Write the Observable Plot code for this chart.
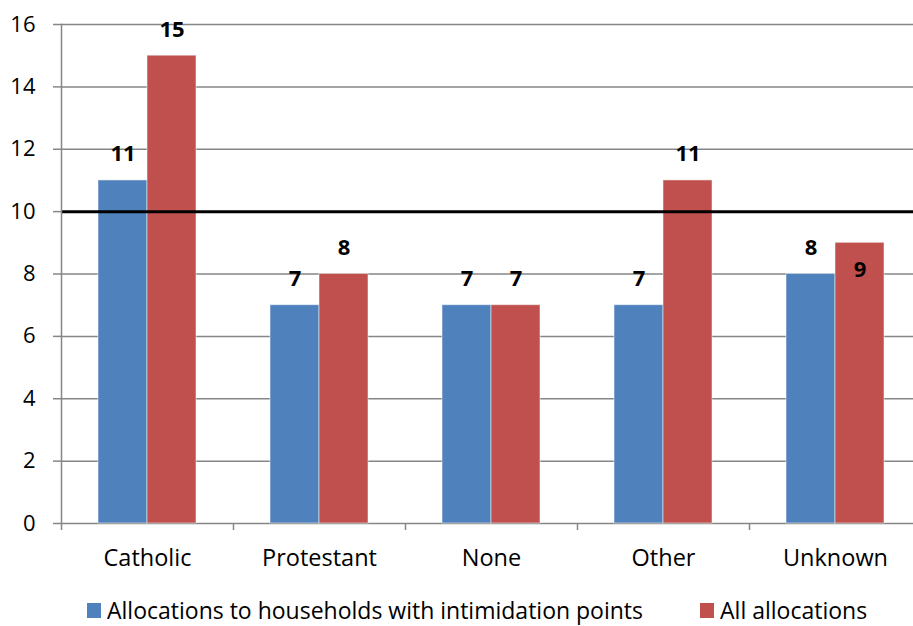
<!DOCTYPE html>
<html>
<head>
<meta charset="utf-8">
<script src="https://cdn.jsdelivr.net/npm/d3@7"></script>
<script src="https://cdn.jsdelivr.net/npm/@observablehq/plot@0.6"></script>
<style>
  html, body { margin: 0; padding: 0; background: #fff; overflow: hidden; }
  #wrap { width: 913px; height: 626px; overflow: hidden; position: relative; font-family: "Open Sans", sans-serif; }
  #chart svg { max-width: none !important; }
  #legend { position: absolute; left: 0; top: 598px; width: 913px; display: flex; align-items: center; font-size: 23px; line-height: 24px; color: #000; }
  .item { display: flex; align-items: center; white-space: nowrap; }
  .sw { width: 14px; height: 15px; margin-right: 6px; }
</style>
</head>
<body>
<div id="wrap">
  <div id="chart"></div>
  <div id="legend"></div>
</div>
<script>
const categories = ["Catholic", "Protestant", "None", "Other", "Unknown"];
const intimidationValues = [11, 7, 7, 7, 8];
const allValues = [15, 8, 7, 11, 9];
const seriesNames = ["Allocations to households with intimidation points", "All allocations"];
const seriesColors = ["#4F81BD", "#C0504D"];
const yTicks = [0, 2, 4, 6, 8, 10, 12, 14, 16];
const threshold = 10;
const insideLabelCategory = "Unknown";

const blue = categories.map((c, i) => ({category: c, value: intimidationValues[i]}));
const red = categories.map((c, i) => ({category: c, value: allValues[i]}));

const gridColor = "#868686";

const chart = Plot.plot({
  width: 921,
  height: 590,
  marginLeft: 61,
  marginRight: 0,
  marginTop: 24,
  marginBottom: 67,
  style: {fontFamily: "'Open Sans', sans-serif", fontSize: "22px", background: "#fff", color: "#000", maxWidth: "none"},
  x: {domain: categories, padding: 0, axis: null},
  y: {domain: [0, 16], axis: null},
  marks: [
    Plot.gridY({ticks: yTicks, stroke: gridColor, strokeOpacity: 1, strokeWidth: 1.5}),
    Plot.barY(blue, {x: "category", y: "value", fill: seriesColors[0], insetLeft: 37, insetRight: 86, stroke: "#fff", strokeOpacity: 0.5, strokeWidth: 1}),
    Plot.barY(red, {x: "category", y: "value", fill: seriesColors[1], insetLeft: 86, insetRight: 37, stroke: "#fff", strokeOpacity: 0.5, strokeWidth: 1}),
    Plot.ruleY([threshold], {stroke: "#000", strokeWidth: 3}),
    Plot.frame({anchor: "left", stroke: gridColor, strokeWidth: 1.5}),
    Plot.axisY({ticks: yTicks, tickSize: 8, tickPadding: 18, stroke: gridColor, strokeWidth: 1.5, fill: "#000", fontSize: 22, label: null}),
    Plot.axisX({tickSize: 7, dx: -86, tickFormat: () => "", stroke: gridColor, strokeWidth: 1.5, label: null}),
    Plot.axisX({tickSize: 0, tickPadding: 26, fill: "#000", fontSize: 23.5, label: null}),
    Plot.text(blue, {x: "category", y: "value", text: d => String(d.value), dx: -24.5, dy: -19, lineAnchor: "bottom", fontWeight: "bold", fontSize: 22, fill: "#000"}),
    Plot.text(red.filter(d => d.category !== insideLabelCategory), {x: "category", y: "value", text: d => String(d.value), dx: 24.5, dy: -19, lineAnchor: "bottom", fontWeight: "bold", fontSize: 22, fill: "#000"}),
    Plot.text(red.filter(d => d.category === insideLabelCategory), {x: "category", y: "value", text: d => String(d.value), dx: 24.5, dy: 19, lineAnchor: "top", fontWeight: "bold", fontSize: 22, fill: "#000"})
  ]
});
document.getElementById("chart").appendChild(chart);

const legend = document.getElementById("legend");
const gaps = [87, 57];
seriesNames.forEach((name, i) => {
  const item = document.createElement("div");
  item.className = "item";
  item.style.marginLeft = gaps[i] + "px";
  const sw = document.createElement("div");
  sw.className = "sw";
  sw.style.background = seriesColors[i];
  const t = document.createElement("span");
  t.textContent = name;
  item.appendChild(sw);
  item.appendChild(t);
  legend.appendChild(item);
});
</script>
</body>
</html>
